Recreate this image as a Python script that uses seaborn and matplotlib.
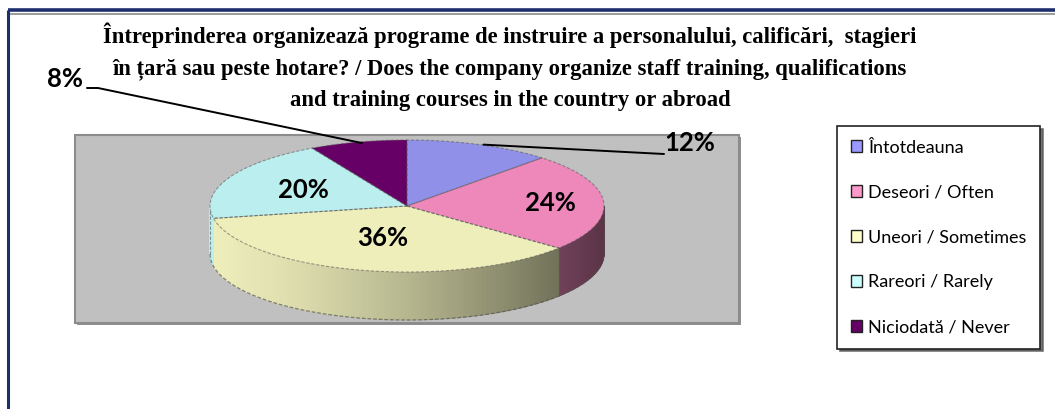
import numpy as np
import matplotlib
matplotlib.use("Agg")
import matplotlib.pyplot as plt
from matplotlib.patches import Patch, Rectangle
from matplotlib.colors import to_rgb
import seaborn as sns

# ---- data ----
categories = ["Întotdeauna", "Deseori / Often", "Uneori / Sometimes",
              "Rareori / Rarely", "Niciodată / Never"]
shares = [12, 24, 36, 20, 8]
top_colors = ["#9090E8", "#EE88BB", "#EEEEBB", "#BBEEEE", "#660066"]
legend_colors = ["#9999FF", "#FF99CC", "#FFFFCC", "#CCFFFF", "#660066"]
label_radius = [None, 0.73, 0.5, 0.58, None]   # None -> label outside with leader
title = ("Întreprinderea organizează programe de instruire a personalului, calificări,  stagieri\n"
         "în țară sau peste hotare? / Does the company organize staff training, qualifications\n"
         "and training courses in the country or abroad")

sns.set_theme(style="white")
plt.rcParams["font.family"] = ["Lato", "DejaVu Sans"]
plt.rcParams["text.color"] = "black"

W, H = 1055, 409
fig = plt.figure(figsize=(W / 100, H / 100), dpi=100)
ax = fig.add_axes([0, 0, 1, 1])
ax.set_xlim(0, W)
ax.set_ylim(H, 0)
ax.axis("off")

# frame of the slide
ax.plot([8, 8], [10, H], color="#1F2F6E", lw=2.2, solid_capstyle="butt")
ax.plot([8, W], [10, 10], color="#1F2F6E", lw=2.6, solid_capstyle="butt")
ax.plot([10, W], [13.8, 13.8], color="#8A8A8A", lw=1.2, solid_capstyle="butt")

# gray plot area
ax.add_patch(Rectangle((77, 137), 664, 188, fc="#909090", ec="none", zorder=1))
ax.add_patch(Rectangle((75, 135), 664, 188, fc="#C0C0C0", ec="#8C8C8C", lw=1.5, zorder=2))

# pie geometry (pixel space)
cx, cy, rx, ry, depth = 407, 206, 197, 66, 48


def ell(theta, dy=0.0):
    t = np.radians(theta)
    return cx + rx * np.cos(t), cy - ry * np.sin(t) + dy


vals = np.array(shares, dtype=float)
bounds = 90 - 360 * np.concatenate([[0], np.cumsum(vals)]) / vals.sum()


def shade(theta):
    c = (np.cos(np.radians(theta)) + 1) / 2
    return 1 - 0.62 * c ** 1.4


# side walls (front half only)
for i, col in enumerate(top_colors):
    hi, lo = bounds[i], bounds[i + 1]
    base = np.array(to_rgb(col))
    for k in (-360, 0, 360):
        a, b = max(lo + k, 180), min(hi + k, 360)
        if a >= b:
            continue
        steps = np.linspace(a, b, max(2, int((b - a) * 2)))
        for t0, t1 in zip(steps[:-1], steps[1:]):
            x0, y0 = ell(t0)
            x1, y1 = ell(t1)
            c = np.clip(base * shade((t0 + t1) / 2), 0, 1)
            ax.fill([x0, x1, x1, x0], [y0, y1, y1 + depth, y0 + depth],
                    color=c, lw=0.6, ec=c, zorder=3)

# side outline
tt = np.linspace(180, 360, 200)
bx, by = ell(tt, depth)
ax.plot(bx, by, color="#555555", lw=0.9, ls=(0, (3, 1.5)), alpha=0.7, zorder=4)
for t in (180, 360, bounds[2] + 360):
    x, y = ell(t)
    ax.plot([x, x], [y, y + depth], color="#555555", lw=0.8, ls=(0, (3, 1.5)), alpha=0.6, zorder=4)

# top faces
for i, col in enumerate(top_colors):
    hi, lo = bounds[i], bounds[i + 1]
    tt = np.linspace(hi, lo, 120)
    ex, ey = ell(tt)
    px = np.concatenate([[cx], ex, [cx]])
    py = np.concatenate([[cy], ey, [cy]])
    ax.fill(px, py, color=col, lw=0, zorder=5)
    ax.plot(px, py, color="#555555", lw=0.8, ls=(0, (3, 1.5)), alpha=0.55, zorder=6)

# labels
for i, v in enumerate(shares):
    mid = (bounds[i] + bounds[i + 1]) / 2
    r = label_radius[i]
    if r is None:
        continue
    t = np.radians(mid)
    ax.text(cx + r * rx * np.cos(t), cy - r * ry * np.sin(t), f"{v}%",
            ha="center", va="center", fontsize=18.5, fontweight="bold", zorder=7)

# outside labels with leader lines
mid0 = (bounds[0] + bounds[1]) / 2
x0, y0 = ell(mid0)
ax.plot([x0 + 4, 664], [y0, 154], color="black", lw=1.4, zorder=7)
ax.text(690, 143, f"{shares[0]}%", ha="center", va="center",
        fontsize=18.5, fontweight="bold", zorder=7)

mid4 = (bounds[4] + bounds[5]) / 2
x4, y4 = ell(mid4)
ax.plot([x4 + 4, 98, 87], [y4 + 1, 88, 88], color="black", lw=1.4, zorder=7)
ax.text(65, 79, f"{shares[4]}%", ha="center", va="center",
        fontsize=18.5, fontweight="bold", zorder=7)

# title
ax.text(510, 22, title, ha="center", va="top", fontsize=16.3, fontweight="bold",
        family=["Liberation Serif", "DejaVu Serif"], linespacing=1.66, zorder=7)

# legend
handles = [Patch(fc=c, ec="#222222", lw=1.0) for c in legend_colors]
leg = fig.legend(handles, categories, loc="upper left",
                 bbox_to_anchor=(837 / W, 1 - 126 / H), frameon=True,
                 fontsize=13, labelspacing=1.6, handlelength=0.62,
                 handleheight=0.62, handletextpad=0.35, borderpad=0.75,
                 borderaxespad=0, fancybox=False,
                 shadow={"ox": 2, "oy": -2, "color": "#555555", "alpha": 0.8})
leg.get_frame().set_edgecolor("#222222")
leg.get_frame().set_linewidth(1.2)

fig.savefig("out.png", dpi=100)
